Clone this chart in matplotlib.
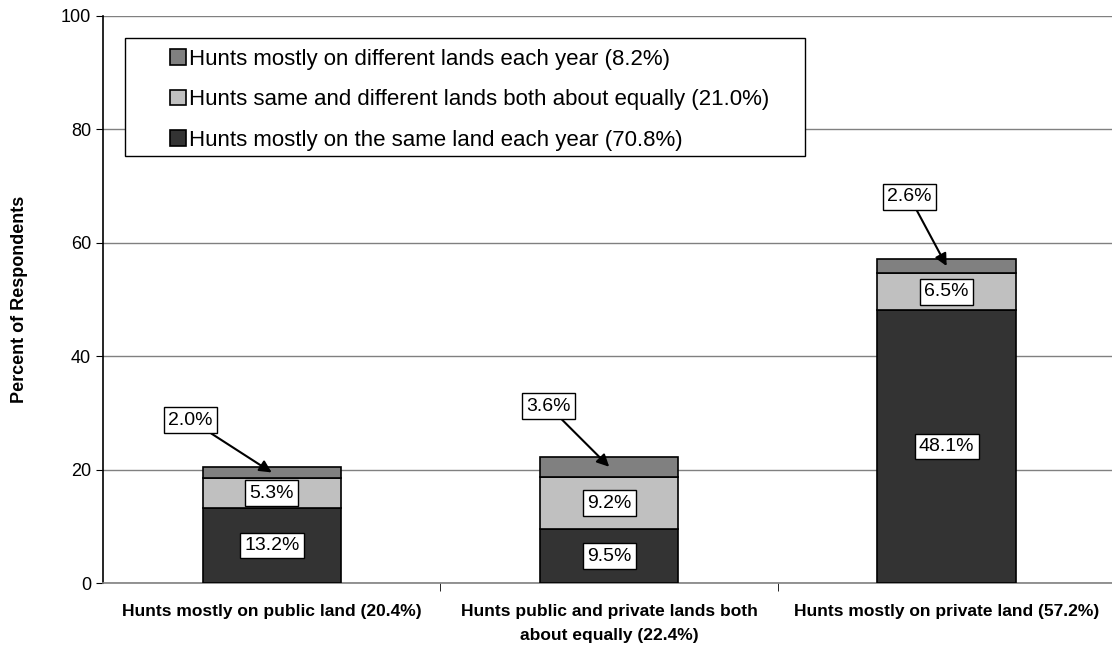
import numpy as np
import matplotlib
matplotlib.use('Agg')
import matplotlib.pyplot as plt
from matplotlib.patches import Rectangle

plt.rcParams['font.family'] = ['Liberation Sans', 'DejaVu Sans']

# ─── Data ─────────────────────────────────────────────────────────────────────
categories = ['Hunts mostly on public land (20.4%)',
              'Hunts public and private lands both\nabout equally (22.4%)',
              'Hunts mostly on private land (57.2%)']
same_land  = [13.2, 9.5, 48.1]
both_equal = [5.3, 9.2, 6.5]
different  = [2.0, 3.6, 2.6]
series_names = ['Hunts mostly on the same land each year (70.8%)',
                'Hunts same and different lands both about equally (21.0%)',
                'Hunts mostly on different lands each year (8.2%)']
yticks = [0, 20, 40, 60, 80, 100]

# ─── Plot ─────────────────────────────────────────────────────────────────────
FW, FH = 1112, 647
fig = plt.figure(figsize=(FW / 100, FH / 100), dpi=100)
AX_L, AX_T, AX_W, AX_H = 103, 16, 1009, 567
ax = fig.add_axes([AX_L / FW, 1 - (AX_T + AX_H) / FH, AX_W / FW, AX_H / FH])

x = np.arange(len(categories))
W = 0.41
colors = ['#333333', '#c0c0c0', '#808080']
bottoms = np.zeros(len(categories))
bars = []
for vals, col, name in zip([same_land, both_equal, different], colors, series_names):
    b = ax.bar(x, vals, W, bottom=bottoms, color=col, edgecolor='black',
               linewidth=1.2, label=name, zorder=3)
    bars.append(b)
    bottoms = bottoms + np.array(vals)

box = dict(boxstyle='square,pad=0.22', fc='white', ec='black', lw=1)
LBL = 14
# labels inside the two lower segments
lower = np.zeros(len(categories))
for vals in [same_land, both_equal]:
    for xi, v, b0 in zip(x, vals, lower):
        ax.text(xi, b0 + v / 2, f'{v:.1f}%', ha='center', va='center',
                fontsize=LBL, bbox=box, zorder=5)
    lower = lower + np.array(vals)

# callouts for the top segment
offsets = [(-0.24, 8.2), (-0.18, 8.9), (-0.11, 10.9)]
for xi, v, b0, (dx_, dy_) in zip(x, different, lower, offsets):
    tip_y = b0 + v / 2
    ax.annotate(f'{v:.1f}%', xy=(xi, tip_y), xytext=(xi + dx_, b0 + v + dy_),
                ha='center', va='center', fontsize=LBL, bbox=box, zorder=6,
                arrowprops=dict(arrowstyle='-|>', color='black', lw=1.5,
                                shrinkA=0, shrinkB=0, mutation_scale=18))

ax.set_xlim(-0.5, 2.49)
ax.set_ylim(0, 100)
ax.set_yticks(yticks)
ax.tick_params(axis='y', labelsize=13, length=5, direction='out', color='black')
ax.set_xticks(x)
ax.set_xticklabels(categories, fontsize=12.5, fontweight='bold', linespacing=1.75)
ax.tick_params(axis='x', length=0, pad=15)
ax.set_xticks([0.5, 1.5], minor=True)
ax.tick_params(axis='x', which='minor', length=6, direction='out')
ax.set_ylabel('Percent of Respondents', fontsize=13, fontweight='bold', labelpad=24)

ax.yaxis.grid(True, color='#808080', linewidth=1, zorder=0)
ax.spines['top'].set_visible(False)
ax.spines['right'].set_visible(False)
ax.spines['left'].set_linewidth(1.2)
ax.spines['bottom'].set_linewidth(1.2)
ax.spines['bottom'].set_color('#808080')

# legend frame drawn separately (wider side padding than the legend allows)
lx0, ly0, lx1, ly1 = 125, 38, 805, 156
ax.add_patch(Rectangle(((lx0 - AX_L) / AX_W, 1 - (ly1 - AX_T) / AX_H),
                       (lx1 - lx0) / AX_W, (ly1 - ly0) / AX_H,
                       transform=ax.transAxes, fc='white', ec='black', lw=1,
                       zorder=9))

handles = [bars[2], bars[1], bars[0]]
leg = ax.legend(handles, [series_names[2], series_names[1], series_names[0]],
                loc='upper left', bbox_to_anchor=((170 - AX_L) / AX_W, 1 - (49 - AX_T) / AX_H),
                fontsize=16, frameon=False, handlelength=0.7, handleheight=0.7,
                handletextpad=0.15, labelspacing=0.87, borderpad=0,
                borderaxespad=0)
leg.set_zorder(10)

plt.savefig('out.png', dpi=100)
